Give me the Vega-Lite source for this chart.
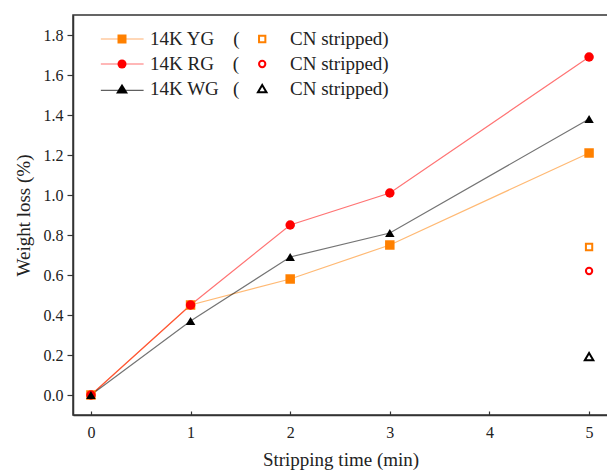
{
  "$schema": "https://vega.github.io/schema/vega-lite/v6.json",
  "autosize": {"type": "none"},
  "padding": {"left": 73, "top": 15, "right": 0, "bottom": 58},
  "width": 535,
  "height": 400,
  "config": {
    "font": "Liberation Serif",
    "view": {"stroke": "#333", "strokeWidth": 1.5},
    "axis": {
      "labelFont": "Liberation Serif", "titleFont": "Liberation Serif",
      "labelFontSize": 16, "titleFontSize": 19, "titleFontWeight": "normal",
      "labelColor": "#222", "titleColor": "#222",
      "domainColor": "#333", "tickColor": "#333", "domainWidth": 1.5, "tickWidth": 1.2,
      "grid": false
    },
    "legend": {"labelFont": "Liberation Serif", "labelFontSize": 19, "labelColor": "#222"}
  },
  "data": {
    "values": [
      {"kind": "base", "series": "14K YG", "t": 0, "w": 0},
      {"kind": "base", "series": "14K YG", "t": 1, "w": 0.45},
      {"kind": "base", "series": "14K YG", "t": 2, "w": 0.58},
      {"kind": "base", "series": "14K YG", "t": 3, "w": 0.75},
      {"kind": "base", "series": "14K YG", "t": 5, "w": 1.21},
      {"kind": "base", "series": "14K RG", "t": 0, "w": 0},
      {"kind": "base", "series": "14K RG", "t": 1, "w": 0.45},
      {"kind": "base", "series": "14K RG", "t": 2, "w": 0.85},
      {"kind": "base", "series": "14K RG", "t": 3, "w": 1.01},
      {"kind": "base", "series": "14K RG", "t": 5, "w": 1.69},
      {"kind": "base", "series": "14K WG", "t": 0, "w": 0},
      {"kind": "base", "series": "14K WG", "t": 1, "w": 0.37},
      {"kind": "base", "series": "14K WG", "t": 2, "w": 0.69},
      {"kind": "base", "series": "14K WG", "t": 3, "w": 0.81},
      {"kind": "base", "series": "14K WG", "t": 5, "w": 1.38},
      {"kind": "cn", "series": "14K YG CN stripped", "t": 5, "w": 0.74},
      {"kind": "cn", "series": "14K RG CN stripped", "t": 5, "w": 0.62},
      {"kind": "cn", "series": "14K WG CN stripped", "t": 5, "w": 0.19}
    ]
  },
  "layer": [
    {
      "layer": [
        {
          "transform": [{"filter": "datum.kind == 'base'"}],
          "mark": {"type": "line", "strokeWidth": 1.2, "opacity": 0.55},
          "encoding": {
            "x": {
              "field": "t", "type": "quantitative",
              "scale": {"domain": [-0.18, 5.19], "nice": false, "zero": false},
              "axis": {"title": "Stripping time (min)", "values": [0, 1, 2, 3, 4, 5], "format": "d", "tickSize": -4, "labelPadding": 13, "titlePadding": 10}
            },
            "y": {
              "field": "w", "type": "quantitative",
              "scale": {"domain": [-0.1, 1.9], "nice": false, "zero": false},
              "axis": {
                "title": "Weight loss (%)",
                "values": [0, 0.1, 0.2, 0.3, 0.4, 0.5, 0.6, 0.7, 0.8, 0.9, 1.0, 1.1, 1.2, 1.3, 1.4, 1.5, 1.6, 1.7, 1.8],
                "labelExpr": "round(datum.value*10)%2 == 0 ? format(datum.value, '.1f') : ''",
                "tickSize": {"condition": {"test": "round(datum.value*10)%2 == 0", "value": 6}, "value": 3.5},
                "labelPadding": 4, "titlePadding": 10
              }
            },
            "color": {
              "field": "series", "type": "nominal",
              "scale": {"domain": ["14K YG", "14K RG", "14K WG"], "range": ["#ff8000", "#ff0000", "#000000"]},
              "legend": null
            }
          }
        },
        {
          "transform": [{"filter": "datum.kind == 'base'"}],
          "mark": {"type": "point", "filled": true, "opacity": 1},
          "encoding": {
            "x": {"field": "t", "type": "quantitative"},
            "y": {"field": "w", "type": "quantitative"},
            "color": {
              "field": "series", "type": "nominal",
              "scale": {"domain": ["14K YG", "14K RG", "14K WG"], "range": ["#ff8000", "#ff0000", "#000000"]},
              "legend": null
            },
            "shape": {
              "field": "series", "type": "nominal",
              "scale": {"domain": ["14K YG", "14K RG", "14K WG"], "range": ["square", "circle", "triangle-up"]},
              "legend": null
            },
            "size": {
              "field": "series", "type": "nominal",
              "scale": {"domain": ["14K YG", "14K RG", "14K WG"], "range": [90, 90, 120]},
              "legend": null
            }
          }
        }
      ]
    },
    {
      "transform": [{"filter": "datum.kind == 'cn'"}],
      "mark": {"type": "point", "filled": false, "strokeWidth": 2, "opacity": 1, "size": 40},
      "encoding": {
        "x": {"field": "t", "type": "quantitative"},
        "y": {"field": "w", "type": "quantitative"},
        "color": {
          "field": "series", "type": "nominal",
          "scale": {"domain": ["14K YG CN stripped", "14K RG CN stripped", "14K WG CN stripped"], "range": ["#ff8000", "#ff0000", "#000000"]},
          "legend": {
            "title": null, "orient": "none", "legendX": 179.7, "legendY": 14.5, "padding": 0, "rowPadding": 5,
            "symbolSize": 40, "symbolStrokeWidth": 2, "labelOffset": 18.3,
            "labelExpr": "'CN stripped)'"
          }
        },
        "shape": {
          "field": "series", "type": "nominal",
          "scale": {"domain": ["14K YG CN stripped", "14K RG CN stripped", "14K WG CN stripped"], "range": ["square", "circle", "M0,-1.25L1.35,1.05L-1.35,1.05Z"]},
          "legend": {
            "title": null, "orient": "none", "legendX": 179.7, "legendY": 14.5, "padding": 0, "rowPadding": 5,
            "symbolSize": 40, "symbolStrokeWidth": 2, "labelOffset": 18.3,
            "labelExpr": "'CN stripped)'"
          }
        }
      }
    },
    {
      "transform": [{"filter": "datum.kind == 'base'"}],
      "mark": {"type": "point", "filled": true, "opacity": 0},
      "encoding": {
        "x": {"field": "t", "type": "quantitative"},
        "y": {"field": "w", "type": "quantitative"},
        "color": {
          "field": "series", "type": "nominal",
          "scale": {"domain": ["14K YG", "14K RG", "14K WG"], "range": ["#ffb070", "#ff7070", "#606060"]},
          "legend": {
            "title": null, "orient": "none", "legendX": 39.5, "legendY": 14.5, "padding": 0, "rowPadding": 5,
            "symbolSize": 81, "symbolOpacity": 1, "symbolStrokeWidth": 0, "labelOffset": 18.5,
            "labelExpr": "''"
          }
        },
        "shape": {
          "field": "series", "type": "nominal",
          "scale": {"domain": ["14K YG", "14K RG", "14K WG"], "range": ["M-4.7,-0.13H4.8V0.13H-4.7Z", "M-4.7,-0.13H4.8V0.13H-4.7Z", "M-4.7,0.17H4.8V0.43H-4.7Z"]},
          "legend": {
            "title": null, "orient": "none", "legendX": 39.5, "legendY": 14.5, "padding": 0, "rowPadding": 5,
            "symbolSize": 81, "symbolOpacity": 1, "symbolStrokeWidth": 0, "labelOffset": 18.5,
            "labelExpr": "''"
          }
        }
      }
    },
    {
      "transform": [{"filter": "datum.kind == 'base'"}],
      "mark": {"type": "point", "filled": true, "opacity": 0},
      "encoding": {
        "x": {"field": "t", "type": "quantitative"},
        "y": {"field": "w", "type": "quantitative"},
        "color": {
          "field": "series", "type": "nominal",
          "scale": {"domain": ["14K YG", "14K RG", "14K WG"], "range": ["#ff8000", "#ff0000", "#000000"]},
          "legend": {
            "title": null, "orient": "none", "legendX": 39.5, "legendY": 14.5, "padding": 0, "rowPadding": 5,
            "symbolSize": 81, "symbolOpacity": 1, "labelOffset": 18.5,
            "labelExpr": "datum.label == '14K WG' ? datum.label + '\u00a0\u00a0\u00a0(' : datum.label + '\u00a0\u00a0\u00a0\u00a0('"
          }
        },
        "shape": {
          "field": "series", "type": "nominal",
          "scale": {"domain": ["14K YG", "14K RG", "14K WG"], "range": ["square", "circle", "M0,-1.15L1.33,1.0L-1.33,1.0Z"]},
          "legend": {
            "title": null, "orient": "none", "legendX": 39.5, "legendY": 14.5, "padding": 0, "rowPadding": 5,
            "symbolSize": 81, "symbolOpacity": 1, "labelOffset": 18.5,
            "labelExpr": "datum.label == '14K WG' ? datum.label + '\u00a0\u00a0\u00a0(' : datum.label + '\u00a0\u00a0\u00a0\u00a0('"
          }
        }
      }
    }
  ],
  "resolve": {"scale": {"color": "independent", "shape": "independent", "size": "independent"}}
}
